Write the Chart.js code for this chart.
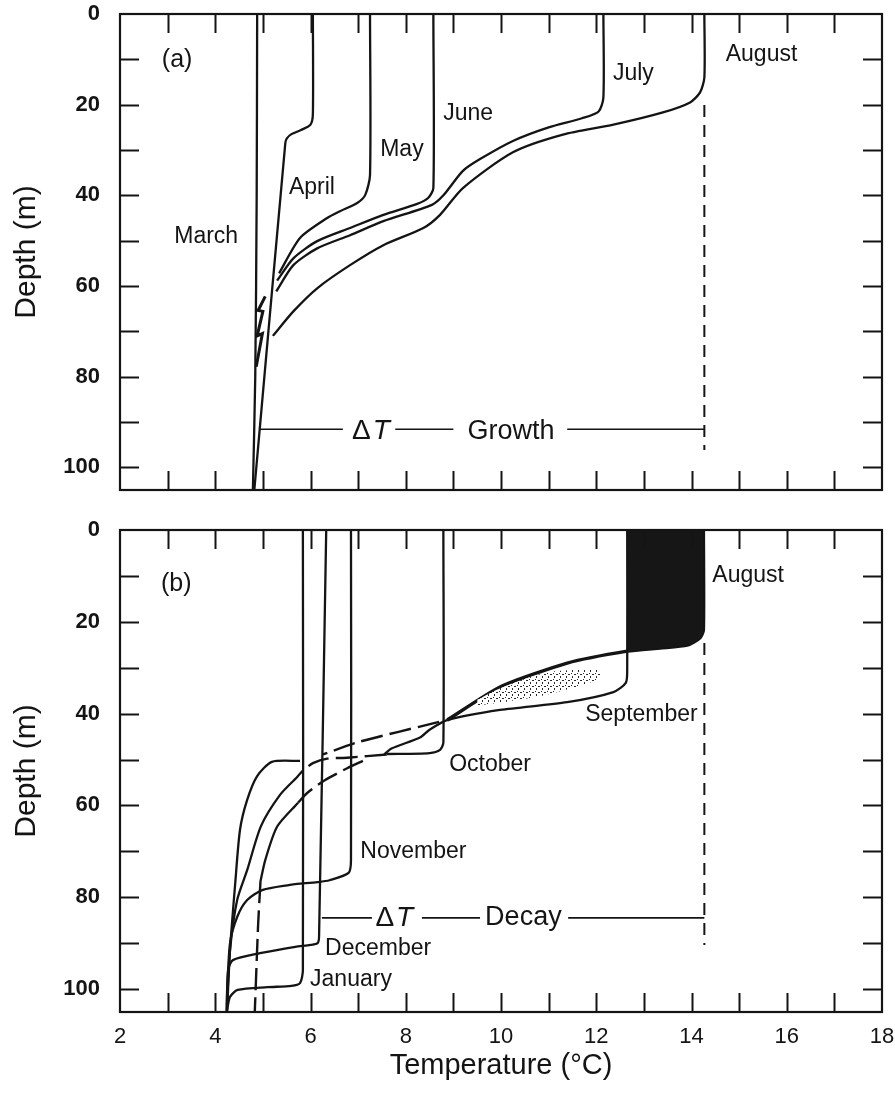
<!DOCTYPE html>
<html>
<head>
<meta charset="utf-8">
<script src="https://cdn.jsdelivr.net/npm/chart.js@4.4.1/dist/chart.umd.min.js"></script>
<style>
  html, body { margin: 0; padding: 0; background: #fff; }
  #page { position: relative; width: 895px; height: 1098px; background: #fff; }
  .panel { position: absolute; left: 0; width: 895px; }
  #boxA { top: 0; height: 510px; }
  #boxB { top: 510px; height: 588px; }
</style>
</head>
<body>
<div id="page">
  <div class="panel" id="boxA"><canvas id="chartA"></canvas></div>
  <div class="panel" id="boxB"><canvas id="chartB"></canvas></div>
</div>
<script>
// ===== AXES =====
const tempMin = 2, tempMax = 18;
const depthMin = 0, depthMax = 105;
const tempLabels = [2, 4, 6, 8, 10, 12, 14, 16, 18];
const depthLabels = [0, 20, 40, 60, 80, 100];

// ===== (a) GROWTH: profiles March -> August =====
const marchT = [4.88, 4.87, 4.84, 4.79];
const marchD = [0, 40, 80, 105];
const aprilT = [6.05, 6.05, 6.0, 5.8, 5.6, 5.5, 5.47, 4.82];
const aprilD = [0, 22, 24.4, 25.6, 26.5, 27.5, 28.6, 105];
const mayT = [7.25, 7.25, 7.15, 6.98, 6.62, 6.35, 5.78, 5.34];
const mayD = [0, 35.5, 39.9, 41.7, 43.5, 45, 49.4, 57.2];
const juneT = [8.58, 8.58, 8.47, 8.24, 7.53, 6.83, 6.14, 5.64, 5.3];
const juneD = [0, 38.4, 40.6, 41.9, 44.3, 47.2, 50.1, 53.9, 58.8];
const julyT = [12.15, 12.15, 12.05, 11.7, 11.0, 10.25, 9.56, 9.2, 8.79, 8.55, 7.53, 6.83, 6.14, 5.64, 5.28];
const julyD = [0, 18.4, 21.5, 23, 25, 28, 32, 34.6, 40, 42.1, 45.7, 48.8, 51.7, 55.4, 61.2];
const augT = [14.27, 14.27, 14.18, 13.97, 13.4, 12.36, 11.3, 10.25, 9.2, 8.72, 8.37, 7.53, 6.83, 6.14, 5.64, 5.21];
const augD = [0, 14, 17.3, 19.5, 21.7, 24.4, 26.6, 30.5, 38.4, 44.3, 47.2, 51, 55.4, 60.5, 65.6, 71];
const squiggleT = [5.05, 4.9, 5.0, 4.88, 4.99, 4.86];
const squiggleD = [62.3, 65.4, 65.6, 71, 70.5, 77.8];
const growthDepth = 91.6;
const growthT = [[4.94, 6.68], [7.78, 9.0], [11.39, 14.27]];
const growthMarkD = [20.1, 96.2];

// ===== (b) DECAY: profiles August -> January =====
const augBT = [14.25, 14.25, 14.18, 13.91, 13.34, 12.65, 11.39, 9.98, 8.87];
const augBD = [0, 21.8, 23.5, 25.1, 25.7, 26.4, 29.0, 34.2, 41.4];
const augFillT = [12.65, 13.34, 13.91, 14.18, 14.25, 14.25];
const augFillD = [26.4, 25.7, 25.1, 23.5, 21.8, 0];
const stippleT = [9.5, 10.0, 11.0, 12.1];
const stippleTopD = [37.0, 34.4, 31.0, 30.3];
const stippleBotD = [38.2, 37.6, 35.8, 32.5];
const sepT = [12.65, 12.65, 12.62, 12.36, 11.39, 9.98, 8.87, 8.5, 8.3, 7.7, 7.55];
const sepD = [0, 30.5, 33.3, 35.3, 37.5, 39.2, 41.4, 43.5, 45.2, 47.6, 48.9];
const octT = [8.79, 8.79, 8.72, 8.5, 7.6];
const octD = [0, 46.3, 47.9, 48.6, 48.8];
const novT = [6.85, 6.85, 6.8, 6.4, 6.15, 5.72, 5.57, 5.0, 4.67, 4.46, 4.31, 4.25, 4.24];
const novD = [0, 71.9, 74.7, 76.3, 76.7, 77.1, 77.3, 78.4, 80.6, 84.3, 90, 101, 105];
const decT = [6.33, 6.18, 6.15, 6.0, 5.68, 4.94, 4.37, 4.27, 4.24];
const decD = [0, 88.5, 90, 90.4, 90.8, 92.2, 93.7, 95.9, 105];
const janT = [5.84, 5.84, 5.78, 5.6, 5.1, 4.47, 4.31, 4.26, 4.25];
const janD = [0, 95.9, 98.7, 99.3, 99.6, 100.2, 101.7, 103.9, 105];
// deeper pieces below the mixed layers (dashed where hidden)
const hidden1T = [8.7, 7.0, 6.26];
const hidden1D = [41.8, 46.2, 48.9];
const hidden2T = [7.6, 6.77, 6.35, 6.05, 5.84];
const hidden2D = [48.9, 49.6, 49.8, 50.8, 52.4];
const hidden3T = [7.1, 6.77, 6.3, 5.93, 5.74];
const hidden3D = [50.3, 51.9, 54.5, 57.3, 59.4];
const deepAT = [5.78, 5.19, 4.88, 4.67, 4.52, 4.42, 4.31, 4.25];
const deepAD = [50.3, 50.5, 53.6, 58.8, 65.3, 76.9, 91.5, 104.5];
const deepBT = [5.84, 5.72, 5.36, 4.96, 4.67, 4.46, 4.31, 4.25];
const deepBD = [52.4, 53.8, 57.7, 64.5, 74.1, 80.6, 91.5, 102.4];
const deepCT = [5.74, 5.3, 5.05, 4.95];
const deepCD = [59.4, 64.6, 71.9, 76.5];
const deepCTailT = [4.95, 4.9, 4.83];
const deepCTailD = [76.5, 86, 105];
const decayDepth = 84.5;
const decayT = [[6.24, 7.29], [8.34, 9.56], [11.41, 14.27]];
const decayMarkD = [24.6, 90.4];

// ===== STYLE =====
const INK = '#141414';
const FONT = '"Liberation Sans", Arial, Helvetica, sans-serif';
Chart.defaults.font.family = FONT;
Chart.defaults.color = INK;

const pts = (ts, ds) => ts.map((t, i) => ({ x: t, y: ds[i] }));

function curve(ts, ds, extra) {
    return Object.assign({
        data: pts(ts, ds),
        showLine: true,
        borderColor: INK,
        borderWidth: 2.3,
        pointRadius: 0,
        tension: 0.25,
        fill: false
    }, extra || {});
}

function flat(pairs, depth, extra) {
    return pairs.map(p => curve(p, [depth, depth], Object.assign({ borderWidth: 1.6, tension: 0 }, extra || {})));
}

// keep the plot box where we put it: no extra room for edge labels
function noMargins(s) {
    s.paddingLeft = 0; s.paddingRight = 0;
    s.paddingTop = 0; s.paddingBottom = 0;
}

// frame + inward ticks on all four sides
const frameTicks = {
    id: 'frameTicks',
    afterDatasetsDraw(chart) {
        const { ctx, chartArea: a, scales: { x, y } } = chart;
        const len = 19;
        ctx.save();
        ctx.strokeStyle = INK;
        ctx.lineWidth = 2;
        ctx.beginPath();
        x.ticks.forEach(t => {
            if (t.value <= x.min || t.value >= x.max) return;
            const px = Math.round(x.getPixelForValue(t.value)) + 0.5;
            ctx.moveTo(px, a.bottom); ctx.lineTo(px, a.bottom - len);
            ctx.moveTo(px, a.top); ctx.lineTo(px, a.top + len);
        });
        y.ticks.forEach(t => {
            if (t.value <= y.min || t.value >= y.max) return;
            const py = Math.round(y.getPixelForValue(t.value)) + 0.5;
            ctx.moveTo(a.left, py); ctx.lineTo(a.left + len, py);
            ctx.moveTo(a.right, py); ctx.lineTo(a.right - len, py);
        });
        ctx.stroke();
        ctx.lineWidth = 2.2;
        ctx.strokeRect(a.left, a.top, a.right - a.left, a.bottom - a.top);
        ctx.restore();
    }
};

// month names, panel tags and the ΔT captions
const annotate = {
    id: 'annotate',
    afterDatasetsDraw(chart, args, opts) {
        const { ctx, scales: { x, y } } = chart;
        ctx.save();
        ctx.fillStyle = INK;
        ctx.textBaseline = 'middle';
        (opts.items || []).forEach(it => {
            const px = x.getPixelForValue(it.t);
            const py = y.getPixelForValue(it.d);
            const size = it.size || 23;
            if (it.delta) {
                ctx.font = `${size}px ${FONT}`;
                const w1 = ctx.measureText('Δ').width + 2;
                ctx.font = `italic ${size}px ${FONT}`;
                const w2 = ctx.measureText('T').width;
                const x0 = px - (w1 + w2) / 2;
                ctx.textAlign = 'left';
                ctx.font = `${size}px ${FONT}`;
                ctx.fillText('Δ', x0, py);
                ctx.font = `italic ${size}px ${FONT}`;
                ctx.fillText('T', x0 + w1, py);
                return;
            }
            ctx.textAlign = 'center';
            ctx.font = `${size}px ${FONT}`;
            ctx.fillText(it.text, px, py);
        });
        ctx.restore();
    }
};

function makeChart(id, datasets, panel) {
    return new Chart(document.getElementById(id), {
        type: 'scatter',
        data: { datasets },
        options: {
            responsive: true,
            maintainAspectRatio: false,
            animation: false,
            events: [],
            layout: { padding: panel.padding },
            plugins: {
                legend: { display: false },
                tooltip: { enabled: false },
                annotate: { items: panel.labels }
            },
            scales: {
                x: {
                    type: 'linear',
                    bounds: 'data',
                    min: tempMin,
                    max: tempMax,
                    grid: { display: false, drawTicks: false },
                    border: { display: false },
                    ticks: {
                        display: panel.xLabels,
                        stepSize: 1,
                        autoSkip: false,
                        maxRotation: 0,
                        padding: 12,
                        color: INK,
                        font: { size: 22 },
                        callback: v => tempLabels.includes(v) ? String(v) : ''
                    },
                    title: {
                        display: panel.xLabels,
                        text: 'Temperature (°C)',
                        color: INK,
                        font: { size: 29 },
                        padding: { top: 0, bottom: 15 }
                    },
                    afterFit: s => { s.height = panel.xLabels ? 86 : 0; noMargins(s); }
                },
                y: {
                    type: 'linear',
                    bounds: 'data',
                    reverse: true,
                    min: depthMin,
                    max: depthMax,
                    grid: { display: false, drawTicks: false },
                    border: { display: false },
                    ticks: {
                        stepSize: 10,
                        includeBounds: false,
                        autoSkip: false,
                        padding: 20,
                        color: INK,
                        font: { size: 22, weight: 'bold' },
                        callback: v => depthLabels.includes(v) ? String(v) : ''
                    },
                    title: {
                        display: true,
                        text: 'Depth (m)',
                        color: INK,
                        font: { size: 30 },
                        padding: { top: 9, bottom: 0 }
                    },
                    afterFit: s => { s.width = 120; noMargins(s); }
                }
            }
        },
        plugins: [frameTicks, annotate]
    });
}

// stipple pattern for the September/August wedge
function stipplePattern(canvasId) {
    const c = document.createElement('canvas');
    c.width = 6; c.height = 6;
    const g = c.getContext('2d');
    g.fillStyle = '#ffffff';
    g.fillRect(0, 0, 6, 6);
    g.fillStyle = '#2a2a2a';
    g.fillRect(1, 1, 1, 1);
    g.fillRect(4, 2, 2, 1);
    g.fillRect(2, 4, 1, 2);
    return document.getElementById(canvasId).getContext('2d').createPattern(c, 'repeat');
}

// ===== PANEL (a) =====
const dashA = { borderWidth: 2, borderDash: [12, 8], tension: 0 };
makeChart('chartA', [
    curve(marchT, marchD),
    curve(aprilT, aprilD),
    curve(mayT, mayD),
    curve(juneT, juneD),
    curve(julyT, julyD),
    curve(augT, augD),
    curve(squiggleT, squiggleD, { borderWidth: 3, tension: 0 }),
    ...flat(growthT, growthDepth),
    curve([14.27, 14.27], growthMarkD, dashA)
], {
    padding: { left: 0, right: 13, top: 14, bottom: 20 },
    xLabels: false,
    labels: [
        { text: '(a)', t: 3.2, d: 10.2, size: 25 },
        { text: 'March', t: 3.81, d: 49.2 },
        { text: 'April', t: 6.03, d: 38.2 },
        { text: 'May', t: 7.92, d: 30 },
        { text: 'June', t: 9.31, d: 21.9 },
        { text: 'July', t: 12.78, d: 13.2 },
        { text: 'August', t: 15.47, d: 9.0 },
        { delta: true, t: 7.27, d: 92, size: 28 },
        { text: 'Growth', t: 10.21, d: 92, size: 27 }
    ]
});

// ===== PANEL (b) =====
const hiddenStyle = { borderWidth: 2.4, borderDash: [22, 7], tension: 0.2 };
makeChart('chartB', [
    curve(augFillT, augFillD, { borderColor: 'rgba(0,0,0,0)', backgroundColor: '#161616', fill: 'origin', tension: 0.2 }),
    curve(stippleT, stippleTopD, { borderColor: 'rgba(0,0,0,0)', tension: 0.3 }),
    curve(stippleT, stippleBotD, { borderColor: 'rgba(0,0,0,0)', backgroundColor: stipplePattern('chartB'), fill: '-1', tension: 0.3 }),
    curve(augBT, augBD, { borderWidth: 3.4, tension: 0.2 }),
    curve(sepT, sepD),
    curve(octT, octD),
    curve(novT, novD),
    curve(decT, decD),
    curve(janT, janD),
    curve(hidden1T, hidden1D, hiddenStyle),
    curve(hidden2T, hidden2D, hiddenStyle),
    curve(hidden3T, hidden3D, hiddenStyle),
    curve(deepAT, deepAD),
    curve(deepBT, deepBD),
    curve(deepCT, deepCD),
    curve(deepCTailT, deepCTailD, hiddenStyle),
    ...flat(decayT, decayDepth),
    curve([14.27, 14.27], decayMarkD, dashA)
], {
    padding: { left: 0, right: 13, top: 20, bottom: 0 },
    xLabels: true,
    labels: [
        { text: '(b)', t: 3.18, d: 11.8, size: 25 },
        { text: 'August', t: 15.19, d: 10.0 },
        { text: 'September', t: 12.95, d: 40.3 },
        { text: 'October', t: 9.77, d: 51.2 },
        { text: 'November', t: 8.16, d: 70.1 },
        { text: 'December', t: 7.42, d: 91.1 },
        { text: 'January', t: 6.85, d: 98 },
        { delta: true, t: 7.76, d: 84.5, size: 28 },
        { text: 'Decay', t: 10.47, d: 84.5, size: 27 }
    ]
});
</script>
</body>
</html>
